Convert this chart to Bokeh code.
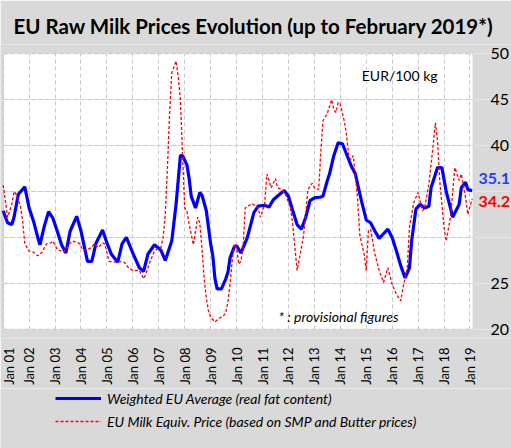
import numpy as np
from bokeh.plotting import figure
from bokeh.layouts import column
from bokeh.models import FixedTicker, Label, Legend, LegendItem, Grid
from bokeh.core.properties import value
from bokeh.embed import file_html
from bokeh.resources import INLINE

title_text = "EU Raw Milk Prices Evolution (up to  February 2019*)"
unit_text = "EUR/100  kg"
note_text = "* : provisional figures"
blue_name = "Weighted EU Average (real fat content)"
red_name = "EU Milk Equiv. Price (based on SMP and Butter prices)"

# months counted from Jan 2001 (0) to Feb 2019 (217)
x_tick_months = list(range(0, 217, 12))
x_tick_labels = ["Jan %02d" % (i + 1) for i in range(19)]
y_ticks = [20, 25, 30, 35, 40, 45, 50]
y_tick_labels = ["20", "25", "", "", "40", "45", "50"]

blue_month = [0, 2, 4, 5, 7, 10, 12, 14, 16, 17, 19, 21, 23, 25, 27, 29, 31, 34, 36, 37,
              39, 41, 43, 46, 48, 50, 53, 55, 57, 60, 63, 65, 67, 70, 73, 75, 77, 78, 80, 82,
              83, 85, 86, 87, 89, 91, 92, 94, 96, 97, 98, 99, 101, 103, 104, 105, 107, 108, 110, 113,
              116, 118, 121, 123, 125, 127, 130, 132, 134, 136, 138, 140, 142, 144, 147, 148, 150, 151, 153, 155,
              157, 159, 161, 163, 164, 166, 168, 170, 172, 174, 176, 178, 180, 182, 184, 186, 188, 189, 191, 193,
              195, 197, 198, 201, 203, 205, 207, 208, 211, 212, 214, 215, 217]
blue_price = [32.9, 31.6, 31.4, 32.2, 34.7, 35.5, 33.2, 31.8, 30.0, 29.2, 31.2, 32.8, 32.1, 30.7, 29.2, 28.3, 30.7, 32.3, 30.7, 29.6,
              27.4, 27.4, 29.4, 30.8, 29.4, 28.2, 27.3, 29.3, 30.0, 28.3, 26.7, 26.3, 28.2, 29.2, 28.6, 27.5, 28.9, 29.6, 33.6, 38.9,
              38.9, 37.9, 36.5, 34.5, 33.2, 34.9, 34.6, 32.9, 29.3, 28.0, 25.5, 24.4, 24.4, 25.5, 26.2, 27.8, 29.0, 29.1, 28.3, 30.0,
              32.7, 33.4, 33.5, 33.3, 34.1, 34.5, 35.1, 34.5, 32.9, 31.4, 30.9, 32.2, 34.0, 34.3, 34.4, 34.5, 36.2, 36.9, 38.9, 40.3,
              40.2, 39.0, 37.8, 36.9, 35.8, 33.8, 31.9, 31.6, 30.7, 29.9, 30.4, 30.9, 30.0, 28.5, 26.9, 25.6, 26.7, 29.6, 33.1, 33.6,
              33.2, 33.4, 35.4, 37.6, 37.6, 35.0, 33.2, 32.2, 33.6, 35.4, 36.0, 35.2, 35.1]

red_month = [0, 1, 2, 4, 5, 6, 8, 9, 10, 12, 14, 16, 18, 20, 22, 23, 25, 28, 29, 31,
             32, 35, 37, 39, 41, 42, 44, 46, 47, 49, 51, 54, 56, 58, 60, 63, 65, 66, 68, 70,
             71, 73, 74, 75, 76, 77, 78, 80, 81, 82, 83, 84, 85, 86, 88, 89, 90, 91, 92, 93,
             94, 95, 96, 98, 100, 102, 103, 104, 105, 106, 107, 108, 109, 110, 111, 112, 114, 115, 117, 118,
             119, 121, 122, 123, 124, 126, 127, 129, 131, 133, 134, 136, 137, 139, 140, 141, 143, 144, 146, 147,
             148, 150, 152, 153, 154, 155, 156, 158, 159, 160, 161, 162, 164, 165, 167, 168, 169, 170, 172, 174,
             176, 178, 180, 182, 184, 185, 187, 188, 190, 192, 194, 195, 197, 199, 200, 201, 202, 204, 205, 207,
             209, 211, 212, 214, 215, 217]
red_price = [35.7, 34.0, 32.2, 33.6, 35.0, 34.7, 33.4, 31.8, 29.3, 28.5, 28.4, 28.0, 28.4, 29.3, 29.4, 29.6, 28.7, 28.4, 28.7, 29.4,
             29.6, 29.4, 28.6, 28.7, 28.9, 29.3, 28.9, 29.4, 29.3, 27.4, 27.3, 27.4, 27.3, 26.7, 26.4, 26.4, 25.5, 26.0, 27.4, 28.5,
             28.7, 28.9, 30.0, 32.5, 37.6, 43.4, 47.9, 49.2, 47.5, 45.0, 39.0, 33.2, 32.9, 31.5, 29.2, 30.7, 32.2, 31.5, 28.8, 25.5,
             23.4, 22.0, 21.3, 20.8, 21.2, 21.5, 21.8, 23.0, 25.0, 27.5, 29.3, 28.9, 27.1, 27.4, 28.9, 33.2, 33.5, 33.7, 33.4, 33.2,
             32.2, 33.6, 36.9, 36.2, 35.4, 36.4, 35.4, 35.2, 34.5, 33.1, 31.4, 26.4, 27.6, 30.2, 32.5, 35.2, 35.9, 35.4, 35.2, 39.4,
             42.7, 43.5, 45.0, 43.9, 43.6, 44.7, 44.5, 42.5, 40.9, 38.7, 38.5, 38.9, 34.3, 30.3, 28.2, 26.4, 30.7, 30.9, 28.2, 26.4,
             25.1, 26.7, 24.9, 23.8, 23.1, 24.5, 26.7, 31.1, 33.8, 34.9, 32.9, 33.2, 35.8, 40.1, 42.5, 40.5, 36.2, 31.1, 29.6, 32.2,
             37.6, 36.2, 36.9, 34.3, 32.5, 34.2]

FONT = "Lato"
BG = "#d9d9d9"
W = 511
PLOT_END = red_month[-1] + 0.5          # right edge of the white plot area (months)
PX_PER_MONTH = 470.0 / PLOT_END          # white plot area is 470 px wide
X_START = -2.7 / PX_PER_MONTH            # small gray margin on the left
X_END = X_START + W / PX_PER_MONTH       # frame spans the full width (room for right labels)
Y_PAD = 1.0                              # gray margin above/below the plot area (value units)

p = figure(width=W, height=388, x_range=(X_START, X_END),
           y_range=(y_ticks[0] - Y_PAD, y_ticks[-1] + Y_PAD),
           output_backend="svg", toolbar_location=None, y_axis_location=None,
           min_border_left=0, min_border_right=0, min_border_top=44, min_border_bottom=50,
           background_fill_color=BG, border_fill_color=BG, outline_line_color=None)

p.title.text = title_text
p.title.text_font = FONT
p.title.text_font_size = "20.5px"
p.title.text_font_style = "bold"
p.title.text_color = "#000000"
p.title.align = "center"
p.title.standoff = 13
p.title.offset = 9

# white plot area
p.quad(left=x_tick_months[0], right=PLOT_END, bottom=y_ticks[0], top=y_ticks[-1],
       fill_color="white", line_color="#cfcfcf", line_width=1, level="image")

p.xaxis.ticker = FixedTicker(ticks=x_tick_months)
p.xaxis.major_label_overrides = dict(zip(x_tick_months, x_tick_labels))
p.xaxis.major_label_orientation = np.pi / 2
p.xaxis.axis_line_color = None
p.xaxis.major_tick_line_color = None
p.xaxis.minor_tick_line_color = None
p.xaxis.major_label_text_font = FONT
p.xaxis.major_label_text_font_size = "13px"
p.xaxis.major_label_text_color = "#000000"
p.xaxis.major_label_standoff = 3

has_cross = "cross_bounds" in Grid.properties()
p.xgrid.grid_line_color = "#c8c8c8"
p.xgrid.grid_line_dash = "4 3"
p.xgrid.bounds = (x_tick_months[0], PLOT_END)
if has_cross:
    p.xgrid.cross_bounds = (y_ticks[0], y_ticks[-1])

ygrid = Grid(dimension=1, ticker=FixedTicker(ticks=y_ticks), grid_line_color="#c8c8c8",
             grid_line_dash="4 3")
if has_cross:
    ygrid.cross_bounds = (x_tick_months[0], PLOT_END)
p.add_layout(ygrid)

# right-hand tick labels
p.text(x=[PLOT_END + 8.0] * len(y_ticks), y=y_ticks, text=y_tick_labels,
       text_font=value(FONT), text_font_size="16px", text_color="#000000",
       text_align="left", text_baseline="middle")

r_blue = p.line(blue_month, blue_price, line_color="#0000ff", line_width=3.2)
r_red = p.line(red_month, red_price, line_color="#ff0000", line_width=1.3, line_dash="3 2")

p.add_layout(Label(x=184.3, y=47.6, text=unit_text, text_align="center", text_baseline="middle",
                   text_font=FONT, text_font_size="14px", text_color="#000000"))
p.add_layout(Label(x=155.2, y=21.4, text=note_text, text_align="center", text_baseline="middle",
                   text_font=FONT, text_font_size="14px", text_font_style="italic", text_color="#000000"))
p.add_layout(Label(x=PLOT_END + 2.4, y=36.4, text="%.1f" % blue_price[-1], text_align="left",
                   text_baseline="middle", text_font=FONT, text_font_size="16px",
                   text_font_style="bold", text_color="#1f3fff"))
p.add_layout(Label(x=PLOT_END + 2.4, y=33.9, text="%.1f" % red_price[-1], text_align="left",
                   text_baseline="middle", text_font=FONT, text_font_size="16px",
                   text_font_style="bold", text_color="#ff0000"))

# legend strip below the chart
lg = figure(width=W, height=60, x_range=(0, 1), y_range=(0, 1), output_backend="svg",
            toolbar_location=None, x_axis_location=None, y_axis_location=None,
            min_border_left=0, min_border_top=0, min_border_right=0, min_border_bottom=0,
            background_fill_color=BG, border_fill_color=BG, outline_line_color=None)
lg.grid.visible = False
lb = lg.line(blue_month, blue_price, line_color="#0000ff", line_width=3.2)
lr = lg.line(red_month, red_price, line_color="#ff0000", line_width=1.5, line_dash="3 2")
legend = Legend(items=[LegendItem(label=blue_name, renderers=[lb]),
                       LegendItem(label=red_name, renderers=[lr])],
                location=(52, 15), orientation="vertical",
                label_text_font=FONT, label_text_font_style="italic",
                label_text_font_size="14px", label_text_color="#000000",
                glyph_width=46, glyph_height=18, spacing=5, label_standoff=6,
                margin=0, padding=3, inactive_fill_alpha=0,
                background_fill_alpha=0, border_line_alpha=0)
lg.add_layout(legend)

layout = column(p, lg, spacing=0)
open("out.html", "w").write(file_html(layout, INLINE))
